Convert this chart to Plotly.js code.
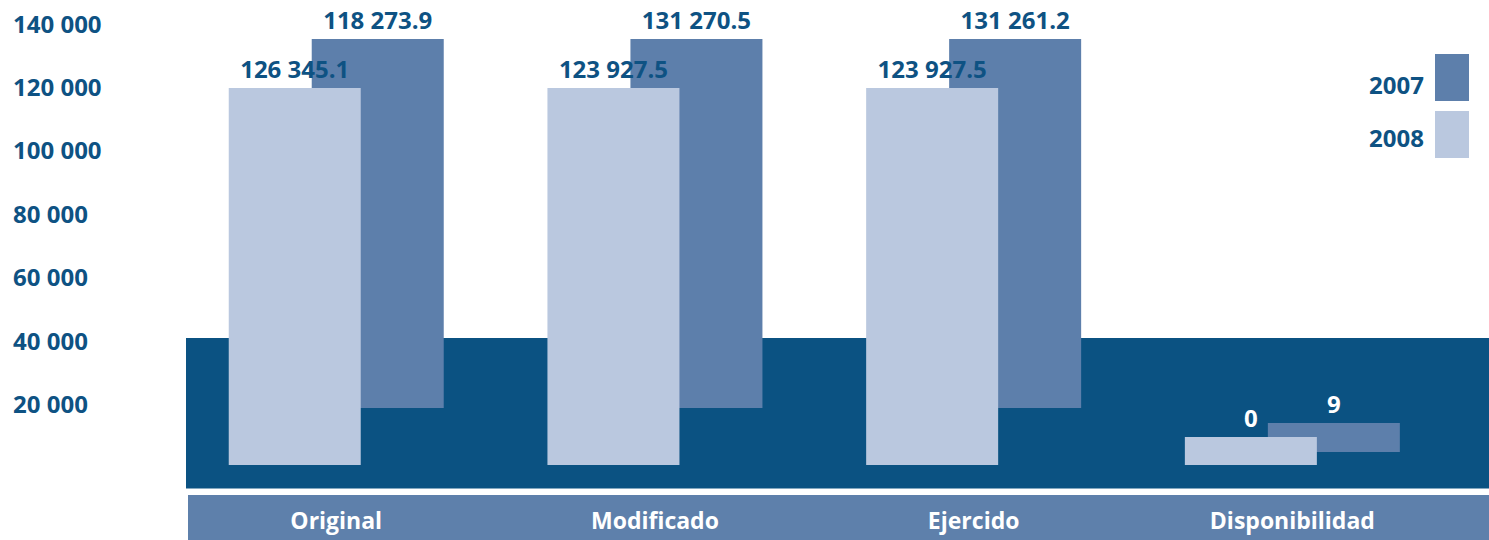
<!DOCTYPE html>
<html>
<head>
<meta charset="utf-8">
<script src="https://cdn.plot.ly/plotly-3.0.1.min.js"></script>
<style>html,body{margin:0;padding:0;background:#fff;}#chart{width:1489px;height:540px;}</style>
</head>
<body>
<div id="chart"></div>
<script>
// ---- data ----
const categories = ['Original', 'Modificado', 'Ejercido', 'Disponibilidad'];
const seriesNames = ['2007', '2008'];
// 2007 bars (drawn behind, floating)
const top2007  = [135300, 135300, 135300, 14170];
const base2007 = [18900, 18900, 18900, 5020];
const labels2007 = ['118 273.9', '131 270.5', '131 261.2', '9'];
// 2008 bars (front)
const top2008  = [119860, 119860, 119860, 9750];
const base2008 = [900, 900, 900, 900];
const labels2008 = ['126 345.1', '123 927.5', '123 927.5', '0'];
// y axis ticks
const yTickVals = [20000, 40000, 60000, 80000, 100000, 120000, 140000];
const yTickText = ['20 000', '40 000', '60 000', '80 000', '100 000', '120 000', '140 000'];

// ---- styles ----
const FONT = '"Open Sans", "Noto Sans", sans-serif';
const DARK_TEXT = '#0e5283';
const C2007 = '#5d7fab';
const C2008 = '#bac8df';
const FLOOR = '#0b5282';
const BAND = '#5e80ab';

const len = (t, b) => t.map((v, i) => v - b[i]);

const trace2007 = {
  type: 'bar', name: seriesNames[0], x: categories,
  y: len(top2007, base2007), base: base2007,
  offset: -0.0769, width: 0.4142,
  marker: {color: C2007, line: {width: 0}},
  text: labels2007, textposition: 'outside', cliponaxis: false,
  constraintext: 'none',
  textfont: {family: FONT, size: 24, weight: 700,
             color: labels2007.map((_, i) => i === 3 ? '#ffffff' : DARK_TEXT)},
  hoverinfo: 'skip'
};
const trace2008 = {
  type: 'bar', name: seriesNames[1], x: categories,
  y: len(top2008, base2008), base: base2008,
  offset: -0.3373, width: 0.4142,
  marker: {color: C2008, line: {width: 0}},
  text: labels2008, textposition: 'outside', cliponaxis: false,
  constraintext: 'none',
  textfont: {family: FONT, size: 24, weight: 700,
             color: labels2008.map((_, i) => i === 3 ? '#ffffff' : DARK_TEXT)},
  hoverinfo: 'skip'
};

const layout = {
  width: 1489, height: 540,
  margin: {l: 0, r: 0, t: 0, b: 0, pad: 0},
  paper_bgcolor: '#ffffff', plot_bgcolor: '#ffffff',
  barmode: 'overlay', showlegend: false,
  font: {family: FONT, color: DARK_TEXT},
  xaxis: {
    type: 'category', range: [-1.055, 3.617],
    showgrid: false, zeroline: false, showline: false, ticks: '',
    ticklabelposition: 'inside', ticklabelstandoff: 3,
    tickfont: {family: FONT, size: 23, weight: 700, color: '#ffffff'}
  },
  yaxis: {
    range: [-22750, 147620],
    showgrid: false, zeroline: false, showline: false, ticks: '',
    tickmode: 'array', tickvals: yTickVals, ticktext: yTickText,
    ticklabelposition: 'inside', ticklabelstandoff: 10,
    tickfont: {family: FONT, size: 24, weight: 700, color: DARK_TEXT}
  },
  shapes: [
    {type: 'rect', layer: 'below', xref: 'paper', yref: 'y',
     x0: 186 / 1489, x1: 1, y0: -6500, y1: 40980,
     fillcolor: FLOOR, line: {width: 0}},
    {type: 'rect', layer: 'below', xref: 'paper', yref: 'paper',
     x0: 188 / 1489, x1: 1, y0: 0, y1: 45 / 540,
     fillcolor: BAND, line: {width: 0}},
    // legend swatches
    {type: 'rect', xref: 'paper', yref: 'paper',
     x0: 1435 / 1489, x1: 1469 / 1489, y0: 1 - 101 / 540, y1: 1 - 54 / 540,
     fillcolor: C2007, line: {width: 0}},
    {type: 'rect', xref: 'paper', yref: 'paper',
     x0: 1435 / 1489, x1: 1469 / 1489, y0: 1 - 158 / 540, y1: 1 - 111 / 540,
     fillcolor: C2008, line: {width: 0}}
  ],
  annotations: [
    {xref: 'paper', yref: 'paper', x: 1426 / 1489, y: 1 - 84 / 540,
     xanchor: 'right', yanchor: 'middle', showarrow: false, text: seriesNames[0],
     font: {family: FONT, size: 24, weight: 700, color: DARK_TEXT}},
    {xref: 'paper', yref: 'paper', x: 1426 / 1489, y: 1 - 137 / 540,
     xanchor: 'right', yanchor: 'middle', showarrow: false, text: seriesNames[1],
     font: {family: FONT, size: 24, weight: 700, color: DARK_TEXT}}
  ]
};

Plotly.newPlot('chart', [trace2007, trace2008], layout, {staticPlot: true, displayModeBar: false});
</script>
</body>
</html>
